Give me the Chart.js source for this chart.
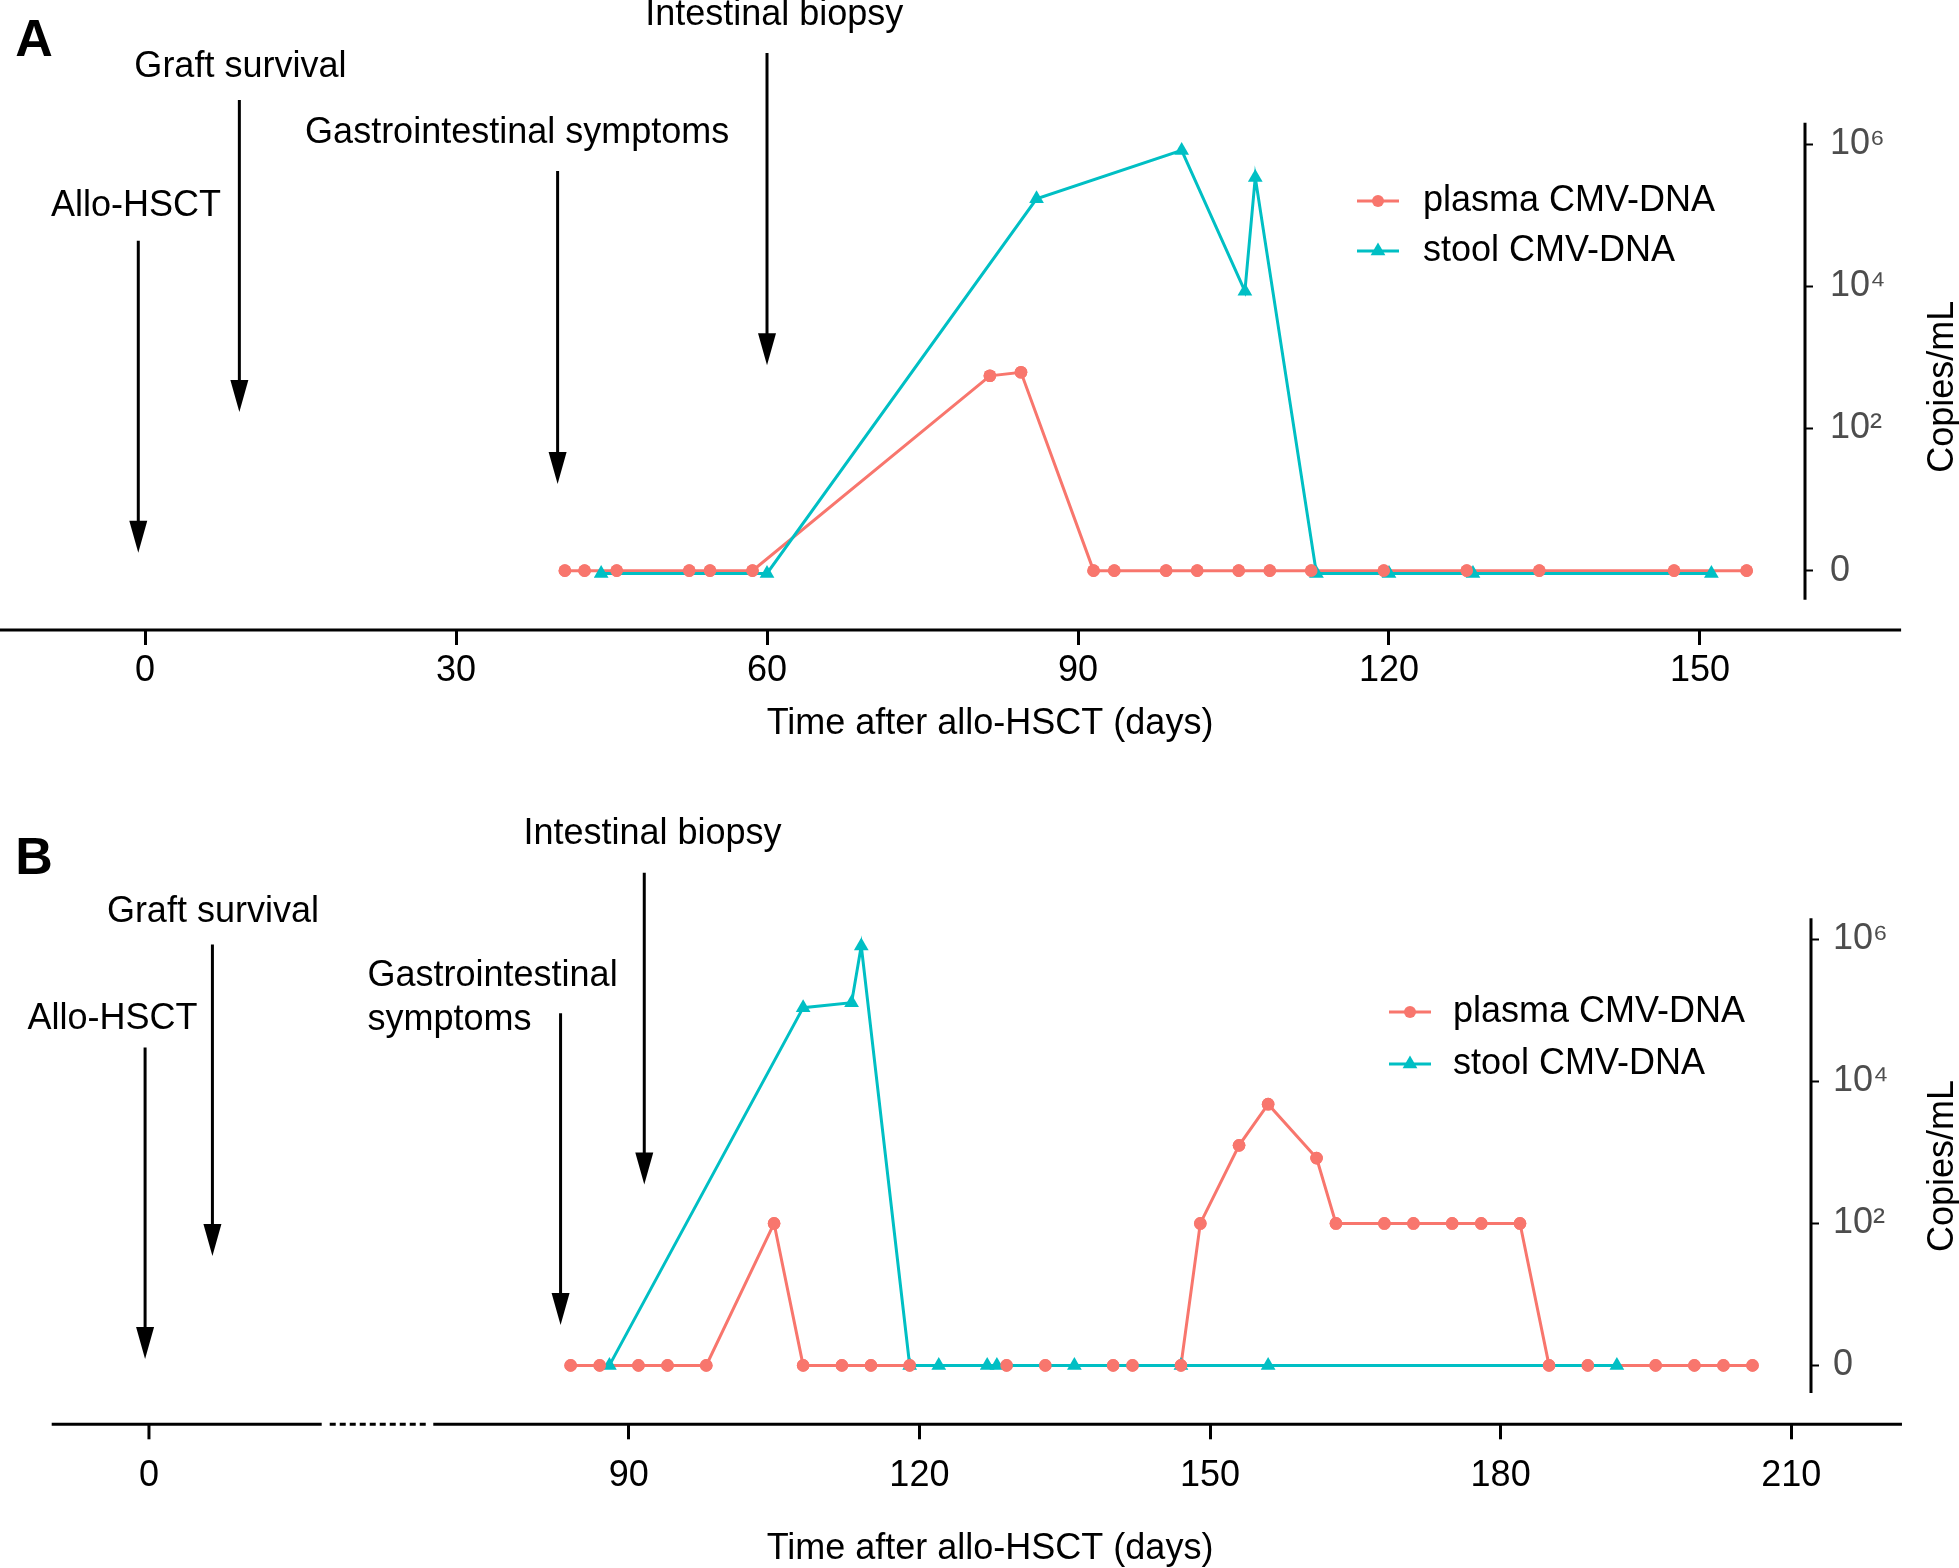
<!DOCTYPE html>
<html><head><meta charset="utf-8">
<script src="https://cdn.jsdelivr.net/npm/chart.js@4.4.1/dist/chart.umd.min.js"></script>
<style>
html,body{margin:0;padding:0;background:#fff;overflow:hidden;}
#wa{position:absolute;left:0;top:0;width:1959px;height:780px;}
#wb{position:absolute;left:0;top:780px;width:1959px;height:788px;}
</style></head>
<body>
<div id="wa"><canvas id="ca"></canvas></div>
<div id="wb"><canvas id="cb"></canvas></div>
<script>
// ---------------- DATA (log10 copies/mL; 0 = undetectable) ----------------
const seriesNames = ['plasma CMV-DNA', 'stool CMV-DNA'];

// Panel A
const plasmaDaysA = [40.5, 42.4, 45.5, 52.5, 54.5, 58.6, 81.5, 84.5, 91.5, 93.5, 98.5, 101.5, 105.5, 108.5, 112.5, 119.5, 127.5, 134.5, 147.5, 154.5];
const plasmaLogA  = [0, 0, 0, 0, 0, 0, 2.74, 2.79, 0, 0, 0, 0, 0, 0, 0, 0, 0, 0, 0, 0];
const stoolDaysA  = [44, 60, 86, 100, 106.1, 107.1, 113, 120, 128.1, 151.1];
const stoolLogA   = [-0.04, -0.04, 5.23, 5.91, 3.93, 5.53, -0.04, -0.04, -0.04, -0.04];

// Panel B
const plasmaDaysB = [84, 87, 91, 94, 98, 105, 108, 112, 115, 119, 129, 133, 140, 142, 147, 149, 153, 156, 161, 163, 168, 171, 175, 178, 182, 185, 189, 196, 200, 203, 206];
const plasmaLogB  = [0, 0, 0, 0, 0, 2, 0, 0, 0, 0, 0, 0, 0, 0, 0, 2, 3.10, 3.68, 2.92, 2, 2, 2, 2, 2, 2, 0, 0, 0, 0, 0, 0];
const stoolDaysB  = [88, 108, 113, 114, 119, 122, 127, 128, 136, 147, 156, 192];
const stoolLogB   = [0, 5.04, 5.11, 5.91, 0, 0, 0, 0, 0, 0, 0, 0];

// Tick values / labels
const xTicksA = [0, 30, 60, 90, 120, 150];
const xTicksB = [90, 120, 150, 180, 210];
const xTicksBLeft = [0];
const yTickVals = [0, 2, 4, 6];
const yTickLabels = ['0', '10\u00B2', '10\u2074', '10\u2076'];

// Event annotations (label, day)
const eventLabels = ['Allo-HSCT', 'Graft survival', 'Gastrointestinal symptoms', 'Intestinal biopsy'];
const eventLabelsB = ['Allo-HSCT', 'Graft survival', 'Gastrointestinal\nsymptoms', 'Intestinal biopsy'];
const eventDaysA = [-0.65, 9.1, 39.8, 60.0];
const eventDaysB = [-0.4, 6.55, 82.96, 91.6];

// ---------------- STYLE / LAYOUT ----------------
const FONT = "'Liberation Sans', Arial, Helvetica, sans-serif";
const RED = '#F8766D', CYAN = '#00BFC4';

const layoutA = {
  letter: 'A', letterPos: [34, 42],
  xTitle: 'Time after allo-HSCT (days)', xTitlePos: [990, 724],
  yTitle: 'Copies/mL', yTitlePos: [1943, 386.7],
  legend: {x1: 1357, x2: 1399, tx: 1423, rows: [201, 251]},
  axisSegs: [{scale: 'x', from: -13.99, to: 169.4, dash: []}],
  yAxisRange: [6.30, -0.41],
  extraTicks: null,
  ev: {
    labels: eventLabels, days: eventDaysA, scales: ['x', 'x', 'x', 'x'],
    top: [4.64, 6.62, 5.62, 7.28], tip: [0.25, 2.23, 1.22, 2.89],
    textX: [-0.87, 9.2, 35.9, 60.7], textY: [5.13, 7.08, 6.16, 7.81],
    align: ['center', 'center', 'center', 'center']
  }
};
const layoutB = {
  letter: 'B', letterPos: [34, 80],
  xTitle: 'Time after allo-HSCT (days)', xTitlePos: [990, 769],
  yTitle: 'Copies/mL', yTitlePos: [1943, 386],
  legend: {x1: 1389, x2: 1431, tx: 1453, rows: [232, 284]},
  axisSegs: [
    {scale: 'xL', from: -10.04, to: 17.83, dash: []},
    {scale: 'xL', from: 18.66, to: 28.8, dash: [6, 4]},
    {scale: 'x', from: 69.82, to: 221.43, dash: []}
  ],
  yAxisRange: [6.30, -0.39],
  extraTicks: {scale: 'xL', values: xTicksBLeft, labels: ['0'], labelOffset: 51.7},
  ev: {
    labels: eventLabelsB, days: eventDaysB, scales: ['xL', 'xL', 'x', 'x'],
    top: [4.48, 5.93, 4.96, 6.94], tip: [0.09, 1.54, 0.57, 2.55],
    textX: [-3.77, 6.6, 63.03, 92.45], textY: [4.88, 6.38, 5.49, 7.49],
    align: ['center', 'center', 'left', 'center']
  }
};

function pts(xs, ys) { return xs.map((x, i) => ({x: x, y: ys[i]})); }

function drawArrow(ctx, x, y1, y2) {
  const headL = 32, headW = 9;
  ctx.strokeStyle = '#000'; ctx.lineWidth = 3;
  ctx.beginPath(); ctx.moveTo(x, y1); ctx.lineTo(x, y2 - headL + 4); ctx.stroke();
  ctx.fillStyle = '#000';
  ctx.beginPath(); ctx.moveTo(x, y2); ctx.lineTo(x - headW, y2 - headL); ctx.lineTo(x + headW, y2 - headL); ctx.closePath(); ctx.fill();
}

function drawMarker(ctx, style, x, y, color) {
  ctx.fillStyle = color;
  ctx.beginPath();
  if (style === 'circle') { ctx.arc(x, y, 6, 0, Math.PI * 2); }
  else { const r = 8.5; ctx.moveTo(x, y - r); ctx.lineTo(x + r * 0.866, y + r / 2); ctx.lineTo(x - r * 0.866, y + r / 2); ctx.closePath(); }
  ctx.fill();
}

function overlay(L) {
  return {
    id: 'overlay' + L.letter,
    afterDatasetsDraw(chart) {
      // points of plasma drawn above the lines
      const meta = chart.getDatasetMeta(1);
      meta.data.forEach(p => p.draw(chart.ctx, chart.chartArea));
    },
    afterDraw(chart) {
      const ctx = chart.ctx, ys = chart.scales.y, ca = chart.chartArea;
      ctx.save();
      // x axis line segments
      ctx.strokeStyle = '#000'; ctx.lineWidth = 3;
      L.axisSegs.forEach(s => {
        const sc = chart.scales[s.scale];
        ctx.setLineDash(s.dash);
        ctx.beginPath(); ctx.moveTo(sc.getPixelForValue(s.from), ca.bottom); ctx.lineTo(sc.getPixelForValue(s.to), ca.bottom); ctx.stroke();
      });
      ctx.setLineDash([]);
      // extra ticks (left segment of broken axis)
      if (L.extraTicks) {
        const sc = chart.scales[L.extraTicks.scale];
        L.extraTicks.values.forEach((v, i) => {
          const px = sc.getPixelForValue(v);
          ctx.beginPath(); ctx.moveTo(px, ca.bottom); ctx.lineTo(px, ca.bottom + 15); ctx.stroke();
          ctx.fillStyle = '#000'; ctx.font = '36px ' + FONT; ctx.textAlign = 'center'; ctx.textBaseline = 'middle';
          ctx.fillText(L.extraTicks.labels[i], px, ca.bottom + L.extraTicks.labelOffset);
        });
      }
      // y axis line
      ctx.beginPath(); ctx.moveTo(ca.right, ys.getPixelForValue(L.yAxisRange[0])); ctx.lineTo(ca.right, ys.getPixelForValue(L.yAxisRange[1])); ctx.stroke();
      // titles
      ctx.fillStyle = '#000'; ctx.font = '36px ' + FONT; ctx.textAlign = 'center'; ctx.textBaseline = 'middle';
      ctx.fillText(L.xTitle, L.xTitlePos[0], L.xTitlePos[1]);
      ctx.save(); ctx.translate(L.yTitlePos[0], L.yTitlePos[1]); ctx.rotate(-Math.PI / 2); ctx.fillText(L.yTitle, 0, 0); ctx.restore();
      // panel letter
      ctx.font = 'bold 52px ' + FONT; ctx.fillText(L.letter, L.letterPos[0], L.letterPos[1]);
      // events
      ctx.font = '36px ' + FONT;
      const ev = L.ev;
      ev.labels.forEach((lab, i) => {
        const sc = chart.scales[ev.scales[i]];
        const ax = sc.getPixelForValue(ev.days[i]);
        drawArrow(ctx, ax, ys.getPixelForValue(ev.top[i]), ys.getPixelForValue(ev.tip[i]));
        ctx.fillStyle = '#000'; ctx.textAlign = ev.align[i]; ctx.textBaseline = 'middle';
        const tx = sc.getPixelForValue(ev.textX[i]);
        lab.split('\n').forEach((ln, j) => ctx.fillText(ln, tx, ys.getPixelForValue(ev.textY[i]) + j * 44));
      });
      // legend (plasma, stool)
      const lg = L.legend;
      const order = [1, 0];
      order.forEach((di, r) => {
        const ds = chart.data.datasets[di];
        const y = lg.rows[r];
        ctx.strokeStyle = ds.borderColor; ctx.lineWidth = 3;
        ctx.beginPath(); ctx.moveTo(lg.x1, y); ctx.lineTo(lg.x2, y); ctx.stroke();
        drawMarker(ctx, ds.pointStyle, (lg.x1 + lg.x2) / 2, y, ds.borderColor);
        ctx.fillStyle = '#000'; ctx.textAlign = 'left'; ctx.textBaseline = 'middle'; ctx.font = '36px ' + FONT;
        ctx.fillText(ds.label, lg.tx, y);
      });
      ctx.restore();
    }
  };
}

function makeChart(canvasId, L, plasmaPts, stoolPts, opt) {
  const scales = {
    x: {
      type: 'linear', position: 'bottom', min: opt.xmin, max: opt.xmax,
      afterBuildTicks: s => { s.ticks = opt.xTicks.map(v => ({value: v})); },
      afterFit: s => { s.height = opt.xHeight; },
      grid: {drawOnChartArea: false, drawTicks: true, tickLength: 15, tickWidth: 3, tickColor: '#000'},
      border: {display: false},
      ticks: {color: '#000', font: {family: FONT, size: 36}, padding: opt.xPad, maxRotation: 0, autoSkip: false}
    },
    y: {
      type: 'linear', position: 'right', min: opt.ymin, max: opt.ymax,
      afterBuildTicks: s => { s.ticks = yTickVals.map(v => ({value: v})); },
      afterFit: s => { s.width = opt.yWidth; },
      grid: {drawOnChartArea: false, drawTicks: true, tickLength: 8, tickWidth: 2, tickColor: '#000'},
      border: {display: false},
      ticks: {color: '#4d4d4d', font: {family: FONT, size: 36}, padding: opt.yPad,
              callback: (v, i) => yTickLabels[i]}
    }
  };
  if (opt.xL) {
    scales.xL = {type: 'linear', display: false, position: 'bottom', min: opt.xL[0], max: opt.xL[1]};
  }
  return new Chart(document.getElementById(canvasId), {
    type: 'line',
    data: {
      datasets: [
        {label: seriesNames[1], data: stoolPts, xAxisID: 'x', borderColor: CYAN, backgroundColor: CYAN,
         pointStyle: 'triangle', pointRadius: 8.5, pointBorderWidth: 0, borderWidth: 3, tension: 0},
        {label: seriesNames[0], data: plasmaPts, xAxisID: 'x', borderColor: RED, backgroundColor: RED,
         pointStyle: 'circle', pointRadius: 6.3, pointBorderWidth: 0, borderWidth: 3, tension: 0}
      ]
    },
    options: {
      responsive: true, maintainAspectRatio: false, animation: false,
      layout: {autoPadding: false, padding: {top: opt.padTop, left: opt.padLeft, right: 0, bottom: 0}},
      plugins: {legend: {display: false}, tooltip: {enabled: false}},
      scales: scales
    },
    plugins: [overlay(L)]
  });
}

makeChart('ca', layoutA, pts(plasmaDaysA, plasmaLogA), pts(stoolDaysA, stoolLogA), {
  xmin: -13.99, xmax: 160.13, xTicks: xTicksA, xHeight: 150, xPad: 4.4,
  ymin: -0.835, ymax: 6.30, yWidth: 154, yPad: 17, padTop: 122.7, padLeft: 0
});
makeChart('cb', layoutB, pts(plasmaDaysB, plasmaLogB), pts(stoolDaysB, stoolLogB), {
  xmin: 30.43, xmax: 212.04, xTicks: xTicksB, xHeight: 143.7, xPad: 15,
  ymin: -0.83, ymax: 6.30, yWidth: 148, yPad: 14, padTop: 138.2, padLeft: 51.7,
  xL: [-10.04, 171.56]
});
</script>
</body></html>
